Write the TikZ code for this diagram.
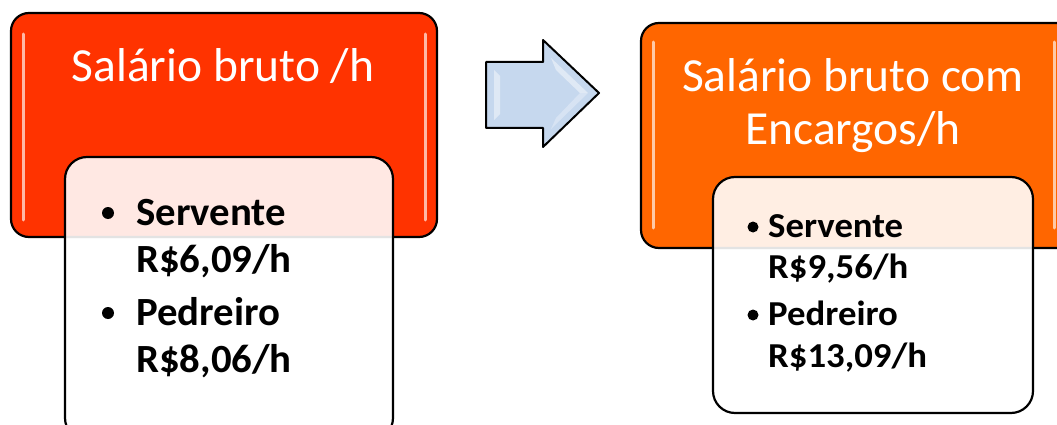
\documentclass[tikz,border=0pt]{standalone}
\usepackage{fontspec}
\setmainfont{Carlito}
\newfontfamily\bodyfontL[FakeStretch=1.02]{Carlito}
\newfontfamily\bodyfontR[FakeStretch=1.05]{Carlito}
\definecolor{redorange}{HTML}{FF3300}
\definecolor{orange2}{HTML}{FF6600}
\definecolor{arrowblue}{HTML}{C6D8EE}
\tikzset{
  headbox/.style={draw=black, line width=2.2pt, rounded corners=18pt},
  itembox/.style={draw=black, line width=2.2pt, rounded corners=22pt, fill=white, fill opacity=0.89},
  gloss/.style={line width=3pt, line cap=round},
  titletext/.style={text=white, font=\fontsize{47.5}{47.5}\selectfont, inner sep=0pt},
  itemL/.style={anchor=base west, inner sep=0pt, font=\bodyfontL\bfseries\fontsize{40}{40}\selectfont},
  itemR/.style={anchor=base west, inner sep=0pt, font=\bodyfontR\bfseries\fontsize{35}{35}\selectfont},
  bulletL/.style={circle, fill=black, inner sep=0pt, minimum size=12pt},
  bulletR/.style={circle, fill=black, inner sep=0pt, minimum size=11pt},
}
\begin{document}
\begin{tikzpicture}[x=1pt, y=-1pt]
\useasboundingbox (0,0) rectangle (1057,425);
\clip (0,0) rectangle (1057,425);
% left head box
\path[headbox, fill=redorange] (11,13) rectangle (437,237);
\draw[gloss, draw=redorange!35!white] (23,34) -- (23,220);
\draw[gloss, draw=redorange!35!white] (425,34) -- (425,220);
\node[titletext] (t1) at (223,82) [anchor=base] {Salário bruto /h};
% left item box
\path[itembox] (65,157) rectangle (393,440);
\node[bulletL] (b1) at (108,213) {};
\node[itemL] (s1) at (136,225) {Servente};
\node[itemL] (v1) at (136,272) {R\$6,09/h};
\node[bulletL] (b2) at (108,313) {};
\node[itemL] (p1) at (136,325) {Pedreiro};
\node[itemL] (w1) at (136,372) {R\$8,06/h};
% arrow
\path[draw=black, line width=2pt, fill=arrowblue, line join=round]
  (486,62) -- (543,62) -- (543,40) -- (599,93) -- (543,147) -- (543,128) -- (486,128) -- cycle;
\path[fill=white, fill opacity=0.45]
  (494,70) -- (500,76) -- (500,114) -- (494,120) -- cycle;
\path[fill=white, fill opacity=0.45]
  (551,58) -- (588,93) -- (580,93) -- (556,70) -- cycle;
\path[fill=white, fill opacity=0.3]
  (551,129) -- (588,93) -- (580,93) -- (556,118) -- cycle;
% right head box
\path[headbox, fill=orange2] (641,23) rectangle (1075,248);
\draw[gloss, draw=orange2!35!white] (653,42) -- (653,228);
\draw[gloss, draw=orange2!35!white] (1054,42) -- (1054,228);
\node[titletext] (t2) at (853,92) [anchor=base] {Salário bruto com};
\node[titletext] (t3) at (853,145) [anchor=base] {Encargos/h};
% right item box
\path[itembox] (713,177) rectangle (1033,413);
\node[bulletR] (b3) at (753,227) {};
\node[itemR] (s2) at (768,237) {Servente};
\node[itemR] (v2) at (768,278) {R\$9,56/h};
\node[bulletR] (b4) at (753,315) {};
\node[itemR] (p2) at (768,325) {Pedreiro};
\node[itemR] (w2) at (768,367) {R\$13,09/h};
\end{tikzpicture}
\end{document}
